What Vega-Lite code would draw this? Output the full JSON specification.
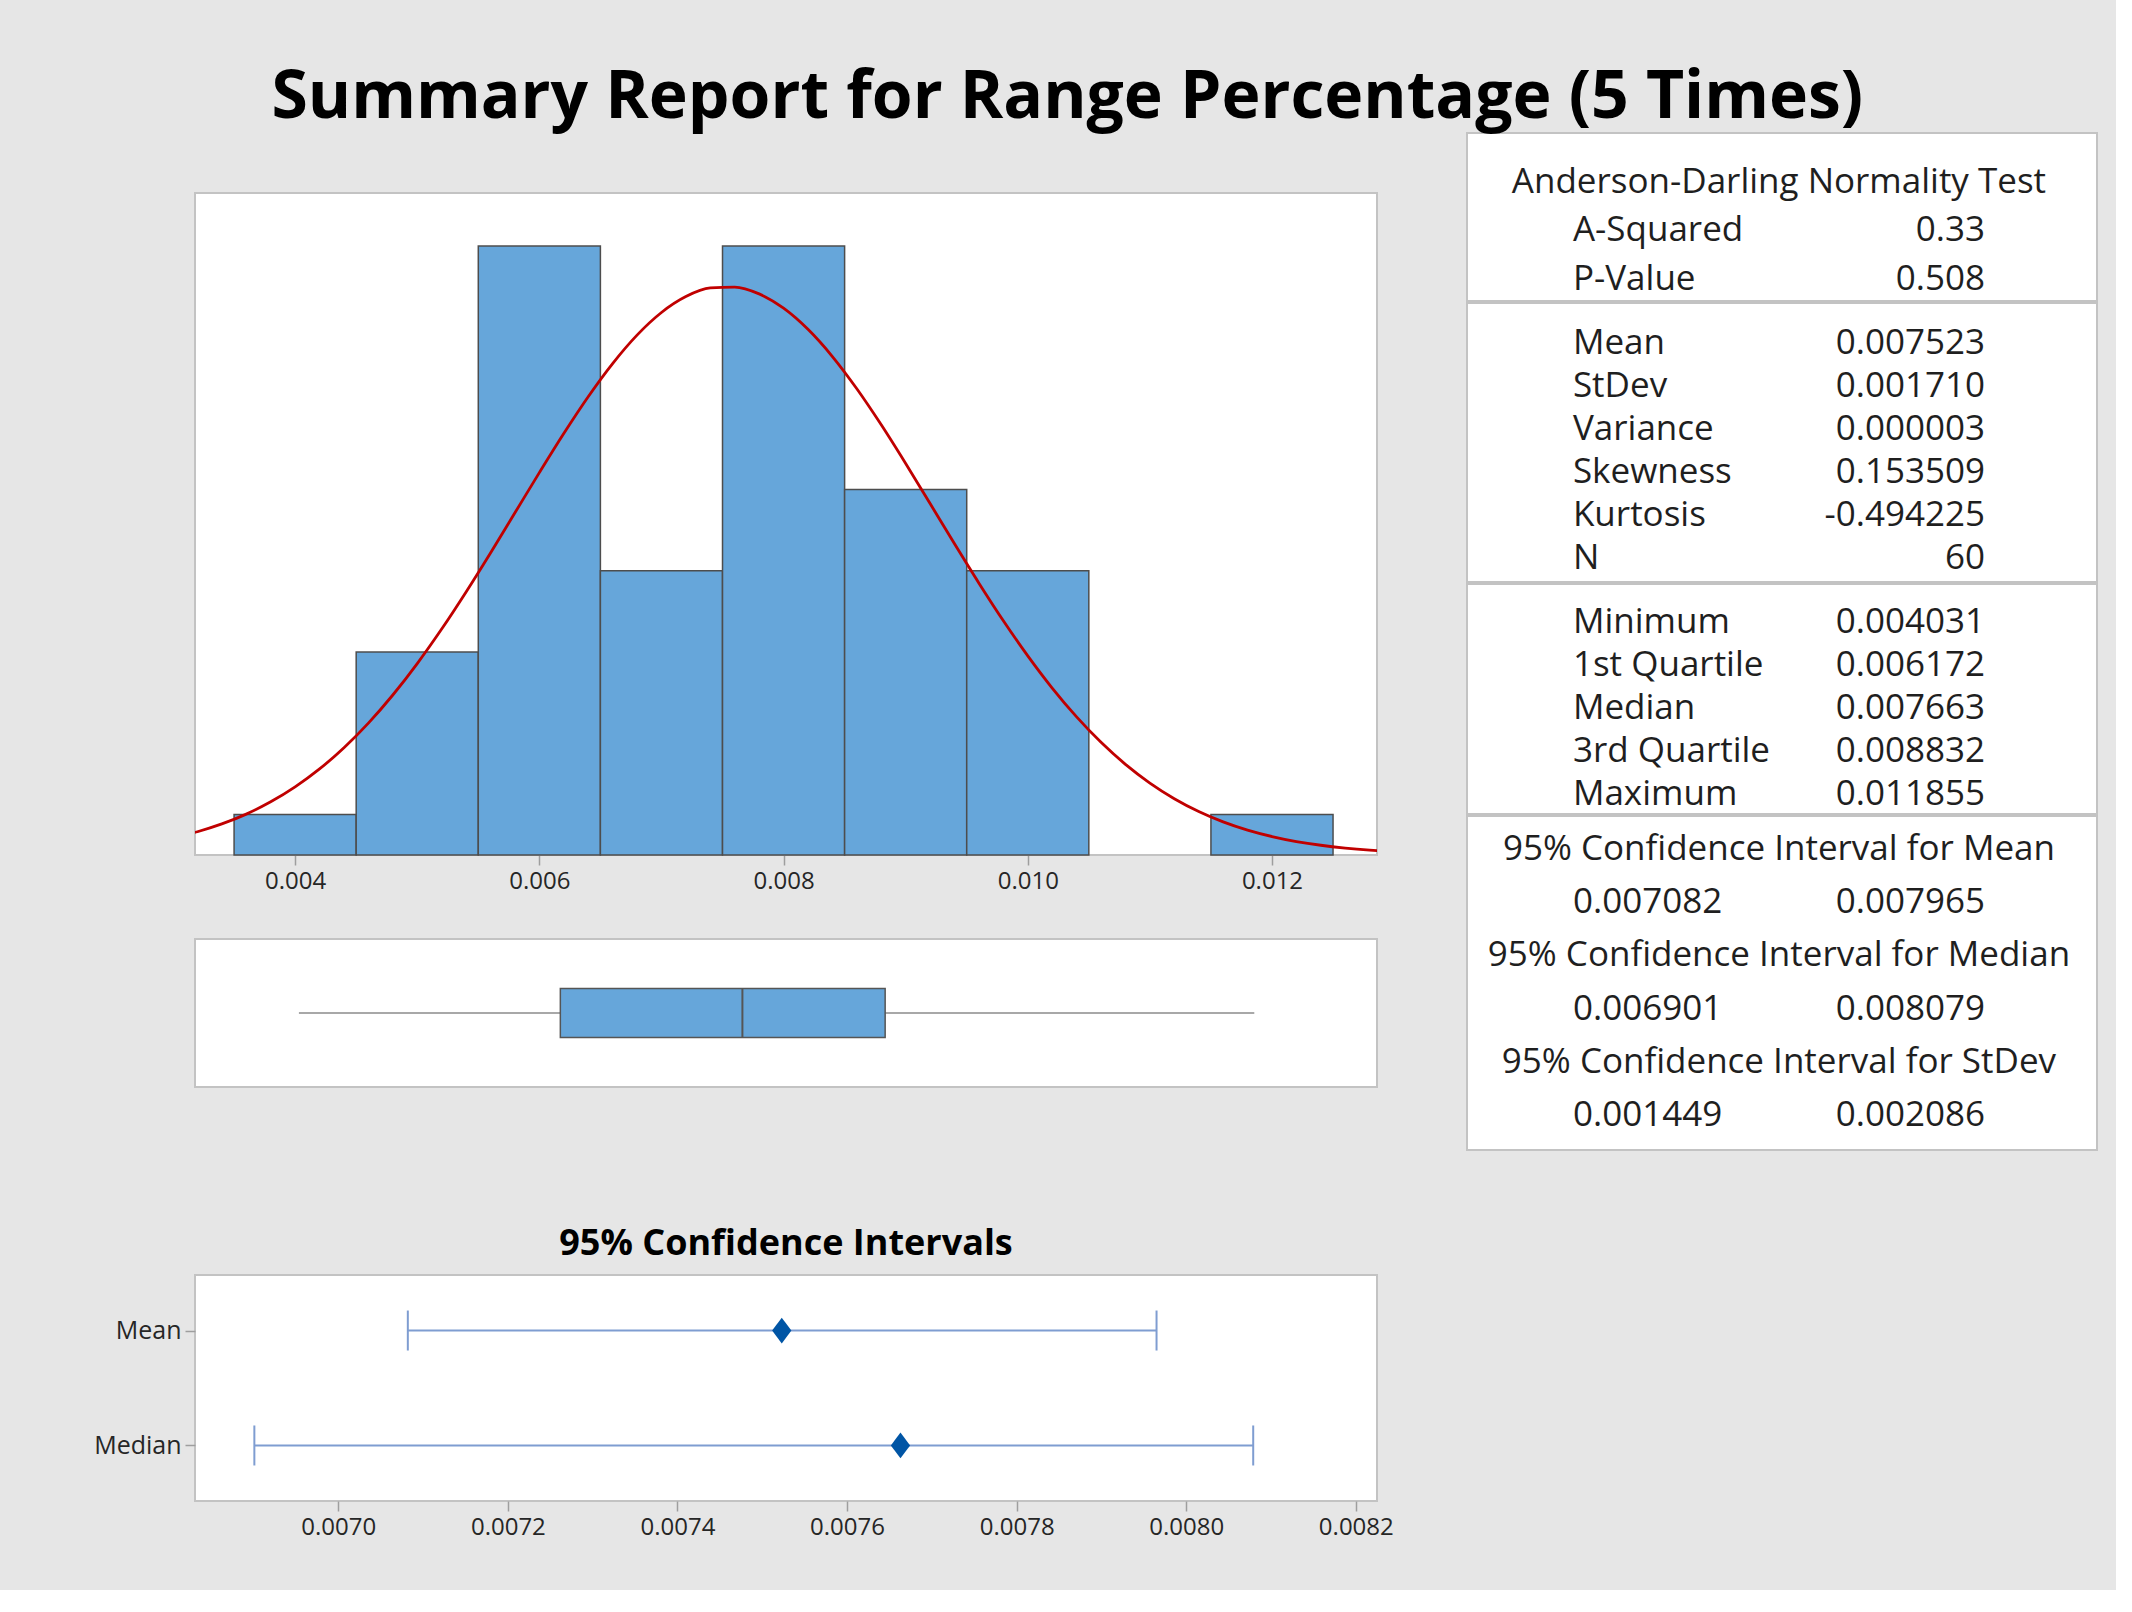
{
  "$schema": "https://vega.github.io/schema/vega-lite/v6.json",
  "background": "#e6e6e6",
  "padding": {"left": 92, "top": 65, "right": 18, "bottom": 50},
  "title": {"text": "Summary Report for Range Percentage (5 Times)", "font": "Open Sans", "fontSize": 66, "fontWeight": "bold", "color": "#000000", "anchor": "middle", "dx": -28, "offset": 0},
  "datasets": {
    "hist": [
      {"bin_start": 0.0035, "bin_end": 0.0045, "count": 1},
      {"bin_start": 0.0045, "bin_end": 0.0055, "count": 5},
      {"bin_start": 0.0055, "bin_end": 0.0065, "count": 15},
      {"bin_start": 0.0065, "bin_end": 0.0075, "count": 7},
      {"bin_start": 0.0075, "bin_end": 0.0085, "count": 15},
      {"bin_start": 0.0085, "bin_end": 0.0095, "count": 9},
      {"bin_start": 0.0095, "bin_end": 0.0105, "count": 7},
      {"bin_start": 0.0115, "bin_end": 0.0125, "count": 1}
    ],
    "curve": [
      {"x": 0.0031, "density": 0.494}, {"x": 0.0032, "density": 0.573}, {"x": 0.0034, "density": 0.765},
      {"x": 0.0036, "density": 1.007}, {"x": 0.0038, "density": 1.309}, {"x": 0.0040, "density": 1.677},
      {"x": 0.0042, "density": 2.119}, {"x": 0.0044, "density": 2.642}, {"x": 0.0046, "density": 3.248},
      {"x": 0.0048, "density": 3.940}, {"x": 0.0050, "density": 4.714}, {"x": 0.0052, "density": 5.564},
      {"x": 0.0054, "density": 6.478}, {"x": 0.0056, "density": 7.439}, {"x": 0.0058, "density": 8.427},
      {"x": 0.0060, "density": 9.416}, {"x": 0.0062, "density": 10.379}, {"x": 0.0064, "density": 11.285},
      {"x": 0.0066, "density": 12.102}, {"x": 0.0068, "density": 12.803}, {"x": 0.0070, "density": 13.360},
      {"x": 0.0072, "density": 13.752}, {"x": 0.0074, "density": 13.964}, {"x": 0.0076, "density": 13.986},
      {"x": 0.0078, "density": 13.818}, {"x": 0.0080, "density": 13.466}, {"x": 0.0082, "density": 12.945},
      {"x": 0.0084, "density": 12.275}, {"x": 0.0086, "density": 11.481}, {"x": 0.0088, "density": 10.593},
      {"x": 0.0090, "density": 9.641}, {"x": 0.0092, "density": 8.655}, {"x": 0.0094, "density": 7.664},
      {"x": 0.0096, "density": 6.695}, {"x": 0.0098, "density": 5.769}, {"x": 0.0100, "density": 4.904},
      {"x": 0.0102, "density": 4.111}, {"x": 0.0104, "density": 3.400}, {"x": 0.0106, "density": 2.774},
      {"x": 0.0108, "density": 2.232}, {"x": 0.0110, "density": 1.772}, {"x": 0.0112, "density": 1.387},
      {"x": 0.0114, "density": 1.071}, {"x": 0.0116, "density": 0.816}, {"x": 0.0118, "density": 0.613},
      {"x": 0.0120, "density": 0.455}, {"x": 0.0122, "density": 0.332}, {"x": 0.0124, "density": 0.240},
      {"x": 0.0126, "density": 0.171}, {"x": 0.0128, "density": 0.120}, {"x": 0.0129, "density": 0.100}
    ],
    "box": [
      {"min": 0.004031, "q1": 0.006172, "median": 0.007663, "q3": 0.008832, "max": 0.011855}
    ],
    "ci": [
      {"stat": "Mean", "lower": 0.007082, "estimate": 0.007523, "upper": 0.007965},
      {"stat": "Median", "lower": 0.006901, "estimate": 0.007663, "upper": 0.008079}
    ],
    "stats": [
      {"section": "Normality", "line": "Anderson-Darling Normality Test", "header": "Anderson-Darling Normality Test"},
      {"section": "Normality", "line": "A-Squared", "left": "A-Squared", "right": "0.33"},
      {"section": "Normality", "line": "P-Value", "left": "P-Value", "right": "0.508"},
      {"section": "Moments", "line": "Mean", "left": "Mean", "right": "0.007523"},
      {"section": "Moments", "line": "StDev", "left": "StDev", "right": "0.001710"},
      {"section": "Moments", "line": "Variance", "left": "Variance", "right": "0.000003"},
      {"section": "Moments", "line": "Skewness", "left": "Skewness", "right": "0.153509"},
      {"section": "Moments", "line": "Kurtosis", "left": "Kurtosis", "right": "-0.494225"},
      {"section": "Moments", "line": "N", "left": "N", "right": "60"},
      {"section": "Quartiles", "line": "Minimum", "left": "Minimum", "right": "0.004031"},
      {"section": "Quartiles", "line": "1st Quartile", "left": "1st Quartile", "right": "0.006172"},
      {"section": "Quartiles", "line": "Median", "left": "Median", "right": "0.007663"},
      {"section": "Quartiles", "line": "3rd Quartile", "left": "3rd Quartile", "right": "0.008832"},
      {"section": "Quartiles", "line": "Maximum", "left": "Maximum", "right": "0.011855"},
      {"section": "Intervals", "line": "95% Confidence Interval for Mean", "header": "95% Confidence Interval for Mean"},
      {"section": "Intervals", "line": "Mean interval", "left": "0.007082", "right": "0.007965"},
      {"section": "Intervals", "line": "95% Confidence Interval for Median", "header": "95% Confidence Interval for Median"},
      {"section": "Intervals", "line": "Median interval", "left": "0.006901", "right": "0.008079"},
      {"section": "Intervals", "line": "95% Confidence Interval for StDev", "header": "95% Confidence Interval for StDev"},
      {"section": "Intervals", "line": "StDev interval", "left": "0.001449", "right": "0.002086"}
    ]
  },
  "spacing": 71,
  "hconcat": [
    {
      "spacing": 45,
      "vconcat": [
        {
          "width": 1182,
          "height": 722,
          "view": {"fill": null, "stroke": null},
          "layer": [
            {
              "data": {"name": "box"},
              "mark": {"type": "rect", "fill": "#ffffff", "stroke": "#c3c3c3", "strokeWidth": 2},
              "encoding": {
                "x": {"datum": 0.00318, "type": "quantitative", "scale": {"domain": [0.00318, 0.01286], "nice": false, "zero": false}, "axis": {"values": [0.004, 0.006, 0.008, 0.010, 0.012], "format": ".3f", "title": null}},
                "x2": {"datum": 0.01286},
                "y": {"datum": 0, "type": "quantitative", "scale": {"domain": [0, 17.78], "nice": false, "zero": false}, "axis": null},
                "y2": {"datum": 16.3}
              }
            },
            {
              "data": {"name": "hist"},
              "mark": {"type": "rect", "fill": "#66a6da", "stroke": "#4d4d4d", "strokeWidth": 1.5},
              "encoding": {
                "x": {"field": "bin_start", "type": "quantitative", "axis": {"values": [0.004, 0.006, 0.008, 0.010, 0.012], "format": ".3f", "title": null}},
                "x2": {"field": "bin_end"},
                "y": {"field": "count", "type": "quantitative", "axis": null},
                "y2": {"datum": 0}
              }
            },
            {
              "data": {"name": "curve"},
              "mark": {"type": "line", "color": "#c00000", "strokeWidth": 2.8, "clip": true, "interpolate": "monotone"},
              "encoding": {
                "x": {"field": "x", "type": "quantitative", "axis": {"values": [0.004, 0.006, 0.008, 0.010, 0.012], "format": ".3f", "title": null}},
                "y": {"field": "density", "type": "quantitative", "axis": null}
              }
            }
          ]
        },
        {
          "spacing": 137,
          "vconcat": [
            {
              "width": 1182,
              "height": 148,
              "data": {"name": "box"},
              "encoding": {"y": {"datum": "Range Percentage", "type": "nominal", "axis": null}},
              "layer": [
                {
                  "mark": {"type": "rule", "color": "#a8a8a8", "strokeWidth": 2},
                  "encoding": {"x": {"field": "min", "type": "quantitative", "scale": {"domain": [0.00318, 0.01286], "nice": false, "zero": false}, "axis": null}, "x2": {"field": "q1"}}
                },
                {
                  "mark": {"type": "rule", "color": "#a8a8a8", "strokeWidth": 2},
                  "encoding": {"x": {"field": "q3", "type": "quantitative", "axis": null}, "x2": {"field": "max"}}
                },
                {
                  "mark": {"type": "bar", "size": 49, "fill": "#66a6da", "stroke": "#555555", "strokeWidth": 1.5},
                  "encoding": {"x": {"field": "q1", "type": "quantitative", "axis": null}, "x2": {"field": "q3"}}
                },
                {
                  "mark": {"type": "tick", "orient": "vertical", "size": 49, "thickness": 2, "color": "#555555", "opacity": 1},
                  "encoding": {"x": {"field": "median", "type": "quantitative", "axis": null}}
                }
              ]
            },
            {
              "width": 1182,
              "height": 226,
              "title": {"text": "95% Confidence Intervals", "font": "Open Sans", "fontSize": 36, "fontWeight": "bold", "color": "#000000", "anchor": "middle", "frame": "group", "offset": 12},
              "data": {"name": "ci"},
              "encoding": {
                "y": {"field": "stat", "type": "nominal", "scale": {"type": "point", "domain": ["Mean", "Median"], "padding": 0.483}, "axis": {"title": null, "labelFontSize": 25, "labelPadding": 4}}
              },
              "layer": [
                {
                  "mark": {"type": "rule", "color": "#7f9dd1", "strokeWidth": 2.2},
                  "encoding": {
                    "x": {"field": "lower", "type": "quantitative", "scale": {"domain": [0.006831, 0.008225], "nice": false, "zero": false}, "axis": {"values": [0.0070, 0.0072, 0.0074, 0.0076, 0.0078, 0.0080, 0.0082], "format": ".4f", "title": null}},
                    "x2": {"field": "upper"}
                  }
                },
                {
                  "mark": {"type": "tick", "orient": "vertical", "size": 40, "thickness": 2, "color": "#7f9dd1", "opacity": 1},
                  "encoding": {"x": {"field": "lower", "type": "quantitative", "axis": {"values": [0.0070, 0.0072, 0.0074, 0.0076, 0.0078, 0.0080, 0.0082], "format": ".4f", "title": null}}}
                },
                {
                  "mark": {"type": "tick", "orient": "vertical", "size": 40, "thickness": 2, "color": "#7f9dd1", "opacity": 1},
                  "encoding": {"x": {"field": "upper", "type": "quantitative", "axis": {"values": [0.0070, 0.0072, 0.0074, 0.0076, 0.0078, 0.0080, 0.0082], "format": ".4f", "title": null}}}
                },
                {
                  "mark": {"type": "point", "shape": "M0,-1.2L0.9,0L0,1.2L-0.9,0Z", "filled": true, "size": 460, "color": "#0055a5", "opacity": 1},
                  "encoding": {"x": {"field": "estimate", "type": "quantitative", "axis": {"values": [0.0070, 0.0072, 0.0074, 0.0076, 0.0078, 0.0080, 0.0082], "format": ".4f", "title": null}}}
                }
              ]
            }
          ]
        }
      ]
    },
    {
      "spacing": 0,
      "vconcat": [
        {
          "width": 630,
          "height": 168,
          "data": {"name": "stats"},
          "transform": [{"filter": {"field": "section", "equal": "Normality"}}],
          "encoding": {"y": {"field": "line", "type": "nominal", "scale": {"type": "point", "domain": ["Anderson-Darling Normality Test", "A-Squared", "P-Value"], "padding": 0.732, "align": 0.69}, "axis": null}},
          "layer": [
            {"transform": [{"filter": "datum.header != null"}], "mark": {"type": "text", "align": "center"}, "encoding": {"x": {"datum": "center", "type": "nominal", "scale": {"type": "point", "domain": ["label", "center", "value"], "padding": 0.529, "align": 0.486}, "axis": null}, "text": {"field": "header", "type": "nominal"}}},
            {"transform": [{"filter": "datum.left != null"}], "mark": {"type": "text", "align": "left"}, "encoding": {"x": {"datum": "label", "type": "nominal", "scale": {"type": "point", "domain": ["label", "center", "value"], "padding": 0.529, "align": 0.486}, "axis": null}, "text": {"field": "left", "type": "nominal"}}},
            {"transform": [{"filter": "datum.right != null"}], "mark": {"type": "text", "align": "right"}, "encoding": {"x": {"datum": "value", "type": "nominal", "scale": {"type": "point", "domain": ["label", "center", "value"], "padding": 0.529, "align": 0.486}, "axis": null}, "text": {"field": "right", "type": "nominal"}}}
          ]
        },
        {
          "width": 630,
          "height": 279,
          "data": {"name": "stats"},
          "transform": [{"filter": {"field": "section", "equal": "Moments"}}],
          "encoding": {"y": {"field": "line", "type": "nominal", "scale": {"type": "point", "domain": ["Mean", "StDev", "Variance", "Skewness", "Kurtosis", "N"], "padding": 0.744, "align": 0.625}, "axis": null}},
          "layer": [
            {"transform": [{"filter": "datum.left != null"}], "mark": {"type": "text", "align": "left"}, "encoding": {"x": {"datum": "label", "type": "nominal", "scale": {"type": "point", "domain": ["label", "center", "value"], "padding": 0.529, "align": 0.486}, "axis": null}, "text": {"field": "left", "type": "nominal"}}},
            {"transform": [{"filter": "datum.right != null"}], "mark": {"type": "text", "align": "right"}, "encoding": {"x": {"datum": "value", "type": "nominal", "scale": {"type": "point", "domain": ["label", "center", "value"], "padding": 0.529, "align": 0.486}, "axis": null}, "text": {"field": "right", "type": "nominal"}}}
          ]
        },
        {
          "width": 630,
          "height": 230,
          "data": {"name": "stats"},
          "transform": [{"filter": {"field": "section", "equal": "Quartiles"}}],
          "encoding": {"y": {"field": "line", "type": "nominal", "scale": {"type": "point", "domain": ["Minimum", "1st Quartile", "Median", "3rd Quartile", "Maximum"], "padding": 0.674, "align": 0.655}, "axis": null}},
          "layer": [
            {"transform": [{"filter": "datum.left != null"}], "mark": {"type": "text", "align": "left"}, "encoding": {"x": {"datum": "label", "type": "nominal", "scale": {"type": "point", "domain": ["label", "center", "value"], "padding": 0.529, "align": 0.486}, "axis": null}, "text": {"field": "left", "type": "nominal"}}},
            {"transform": [{"filter": "datum.right != null"}], "mark": {"type": "text", "align": "right"}, "encoding": {"x": {"datum": "value", "type": "nominal", "scale": {"type": "point", "domain": ["label", "center", "value"], "padding": 0.529, "align": 0.486}, "axis": null}, "text": {"field": "right", "type": "nominal"}}}
          ]
        },
        {
          "width": 630,
          "height": 334,
          "data": {"name": "stats"},
          "transform": [{"filter": {"field": "section", "equal": "Intervals"}}],
          "encoding": {"y": {"field": "line", "type": "nominal", "scale": {"type": "point", "domain": ["95% Confidence Interval for Mean", "Mean interval", "95% Confidence Interval for Median", "Median interval", "95% Confidence Interval for StDev", "StDev interval"], "padding": 0.639, "align": 0.485}, "axis": null}},
          "layer": [
            {"transform": [{"filter": "datum.header != null"}], "mark": {"type": "text", "align": "center"}, "encoding": {"x": {"datum": "center", "type": "nominal", "scale": {"type": "point", "domain": ["label", "center", "value"], "padding": 0.529, "align": 0.486}, "axis": null}, "text": {"field": "header", "type": "nominal"}}},
            {"transform": [{"filter": "datum.left != null"}], "mark": {"type": "text", "align": "left"}, "encoding": {"x": {"datum": "label", "type": "nominal", "scale": {"type": "point", "domain": ["label", "center", "value"], "padding": 0.529, "align": 0.486}, "axis": null}, "text": {"field": "left", "type": "nominal"}}},
            {"transform": [{"filter": "datum.right != null"}], "mark": {"type": "text", "align": "right"}, "encoding": {"x": {"datum": "value", "type": "nominal", "scale": {"type": "point", "domain": ["label", "center", "value"], "padding": 0.529, "align": 0.486}, "axis": null}, "text": {"field": "right", "type": "nominal"}}}
          ]
        }
      ]
    }
  ],
  "config": {
    "font": "Open Sans",
    "view": {"fill": "#ffffff", "stroke": "#c3c3c3", "strokeWidth": 2},
    "axis": {"labelFont": "Open Sans", "labelFontSize": 24, "labelColor": "#262626", "tickColor": "#9e9e9e", "tickSize": 10, "tickWidth": 1.5, "domain": false, "grid": false, "labelPadding": 4},
    "text": {"font": "Open Sans", "fontSize": 35, "color": "#1f1f1f", "baseline": "middle"}
  }
}
